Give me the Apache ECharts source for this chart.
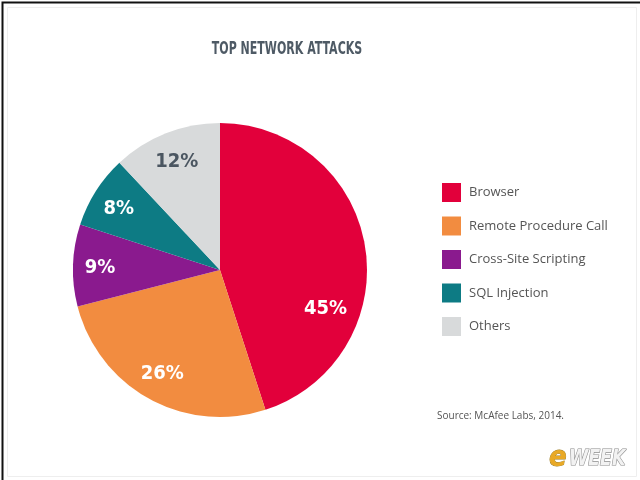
<!DOCTYPE html>
<html>
<head>
<meta charset="utf-8">
<script src="https://cdn.jsdelivr.net/npm/echarts@6/dist/echarts.min.js"></script>
<style>
html,body{margin:0;padding:0;background:#fff;}
#main{width:640px;height:480px;}
</style>
</head>
<body>
<div id="main"></div>
<script>
var categories = ['Browser', 'Remote Procedure Call', 'Cross-Site Scripting', 'SQL Injection', 'Others'];
var values = [45, 26, 9, 8, 12];
var colors = ['#E2003B', '#F28C40', '#8A1A8E', '#0D7B84', '#D8DADB'];
var labelColors = ['#ffffff', '#ffffff', '#ffffff', '#ffffff', '#4B5661'];
var titleText = 'TOP NETWORK ATTACKS';
var sourceText = 'Source: McAfee Labs, 2014.';

var condensed = '"DejaVu Sans Condensed", sans-serif';

var pieData = categories.map(function (c, i) {
  return { name: c, value: values[i], itemStyle: { color: colors[i] } };
});
var labelData = categories.map(function (c, i) {
  return {
    name: c, value: values[i],
    itemStyle: { color: 'rgba(0,0,0,0)' },
    label: { color: labelColors[i] }
  };
});

var labelShift = [[-13, 58], [0, -1], [0, 2], [0, 3], [1, 3]];

var chart = echarts.init(document.getElementById('main'), null, { renderer: 'canvas' });
chart.setOption({
  backgroundColor: '#ffffff',
  animation: false,
  legend: {
    orient: 'vertical',
    left: 437,
    top: 178,
    itemWidth: 19,
    itemHeight: 19,
    itemGap: 14.5,
    icon: 'rect',
    data: categories,
    textStyle: { fontFamily: '"Open Sans", sans-serif', fontSize: 13, color: '#555', padding: [0, 0, 0, 3] }
  },
  graphic: [
    {
      type: 'rect', left: 0, top: 0, silent: true,
      shape: { width: 639, height: 479 },
      style: { fill: 'none', stroke: '#111', lineWidth: 2 }
    },
    {
      type: 'rect', left: 5, top: 5, silent: true,
      shape: { width: 629, height: 469 },
      style: { fill: 'none', stroke: '#eeeeee', lineWidth: 1 }
    },
    {
      type: 'text', x: 287, y: 50, scaleX: 0.72, silent: true,
      style: {
        text: titleText, font: 'bold 17px "DejaVu Sans Condensed", sans-serif',
        fill: '#4E5A65', textAlign: 'center', textVerticalAlign: 'middle'
      }
    },
    {
      type: 'text', left: 437, top: 411,
      style: { text: sourceText, font: '10px "Open Sans", sans-serif', fill: '#555' }
    },
    {
      type: 'text', x: 549, y: 444, silent: true,
      style: {
        text: 'e',
        font: 'italic bold 29px "DejaVu Sans Condensed", sans-serif',
        fill: '#E9A925', stroke: '#9a7a20', lineWidth: 0.8
      }
    },
    {
      type: 'text', x: 569, y: 449, scaleX: 0.92, silent: true,
      style: {
        text: 'WEEK',
        font: 'italic bold 21px "DejaVu Sans Condensed", sans-serif',
        fill: '#f2f2f2', stroke: '#8c8c8c', lineWidth: 1.2
      }
    }
  ],
  series: [
    {
      type: 'pie',
      center: [220, 270],
      radius: [0, 147],
      startAngle: 90,
      clockwise: true,
      silent: true,
      label: { show: false },
      labelLine: { show: false },
      data: pieData
    },
    {
      type: 'pie',
      center: [220, 270],
      radius: [87, 147],
      startAngle: 90,
      clockwise: true,
      silent: true,
      label: {
        show: true,
        position: 'inside',
        formatter: '{c}%',
        fontFamily: condensed,
        fontWeight: 'bold',
        fontSize: 20
      },
      labelLine: { show: false },
      labelLayout: function (p) {
        var s = labelShift[p.dataIndex];
        return { dx: s[0], dy: s[1] };
      },
      data: labelData
    }
  ]
});
</script>
</body>
</html>
